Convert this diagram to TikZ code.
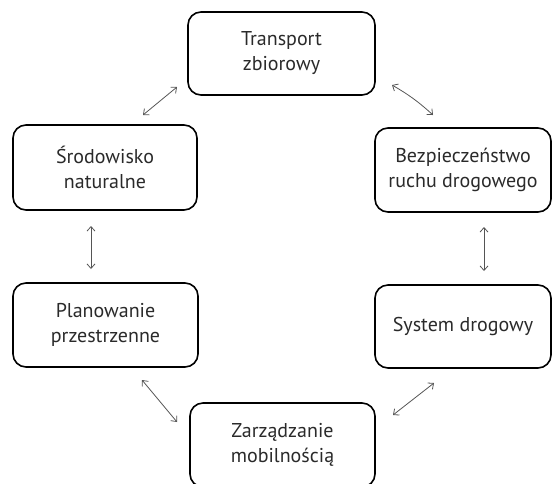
\documentclass[tikz,border=0pt]{standalone}
\usepackage{fontspec}
\setmainfont{PT Sans}
\usetikzlibrary{arrows.meta}
\definecolor{txt}{HTML}{2A2A2A}
\definecolor{arr}{HTML}{555555}
\begin{document}
\begin{tikzpicture}[x=1pt,y=-1pt,
  boxnode/.style={draw=black, line width=1.6pt, rounded corners=13pt, align=center,
    text=txt, font=\fontsize{20}{25}\selectfont, inner sep=0pt},
  link/.style={draw=arr, line width=0.8pt, {Straight Barb[length=4.5pt,width=8pt]}-{Straight Barb[length=4.5pt,width=8pt]}}]
\useasboundingbox (0,0) rectangle (553,483);
\begin{scope}
\clip (0,0) rectangle (553,483);
\node[boxnode, minimum width=187pt, minimum height=83pt] (T) at (281.5,53.5) {Transport\\zbiorowy};
\node[boxnode, minimum width=184pt, minimum height=85pt] (S) at (105,167.5) {Środowisko\\naturalne};
\node[boxnode, minimum width=176pt, minimum height=84pt] (B) at (463,170) {Bezpieczeństwo\\ruchu drogowego};
\node[boxnode, minimum width=185pt, minimum height=84pt] (P) at (105.5,325) {Planowanie\\przestrzenne};
\node[boxnode, minimum width=176pt, minimum height=83pt] (D) at (463,326.5) {System drogowy};
\node[boxnode, minimum width=185pt, minimum height=84pt] (Z) at (282.5,445) {Zarządzanie\\mobilnością};
\end{scope}
\coordinate (a1) at (143,115);
\coordinate (a2) at (177,87);
\coordinate (b1) at (392,85);
\coordinate (b2) at (433,115);
\coordinate (c1) at (91,226);
\coordinate (c2) at (91,269);
\coordinate (d1) at (484,227);
\coordinate (d2) at (484,271);
\coordinate (e1) at (142,380);
\coordinate (e2) at (177,422);
\coordinate (f1) at (393,415);
\coordinate (f2) at (434,383);
\draw[link] (a1) -- (a2);
\draw[link] (b1) to[bend left=6] (b2);
\draw[link] (c1) -- (c2);
\draw[link] (d1) -- (d2);
\draw[link] (e1) -- (e2);
\draw[link] (f1) -- (f2);
\end{tikzpicture}
\end{document}
